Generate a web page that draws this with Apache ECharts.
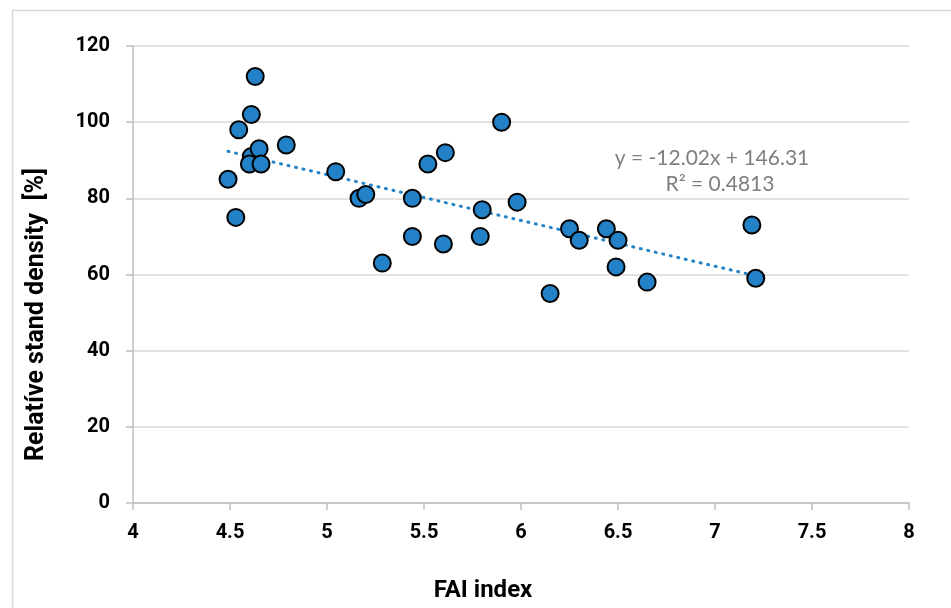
<!DOCTYPE html>
<html>
<head>
<meta charset="utf-8">
<script src="https://cdn.jsdelivr.net/npm/echarts@6/dist/echarts.min.js"></script>
<style>
html,body{margin:0;padding:0;background:#fff;}
#chart{width:951px;height:608px;}
</style>
</head>
<body>
<div id="chart"></div>
<script>
var faiIndex = [4.49,4.53,4.545,4.63,4.61,4.61,4.60,4.65,4.66,4.79,5.045,5.165,5.20,5.285,5.44,5.44,5.52,5.61,5.60,5.90,5.80,5.79,5.98,6.15,6.25,6.30,6.44,6.50,6.49,6.65,7.19,7.21];
var standDensity = [85,75,98,112,102,91,89,93,89,94,87,80,81,63,80,70,89,92,68,100,77,70,79,55,72,69,72,69,62,58,73,59];
var trendSlope = -12.02;
var trendIntercept = 146.31;
var trendLabel = ['y = -12.02x + 146.31', 'R\u00b2 = 0.4813'];
var xTitle = 'FAI index';
var yTitle = 'Relat\u00edve stand density  [%]';

var points = faiIndex.map(function(x, i){ return [x, standDensity[i]]; });
var xMin = Math.min.apply(null, faiIndex), xMax = Math.max.apply(null, faiIndex);
var trend = [[xMin, trendSlope*xMin + trendIntercept], [xMax, trendSlope*xMax + trendIntercept]];

var chart = echarts.init(document.getElementById('chart'), null, {renderer:'canvas'});
var font = 'Roboto, "Liberation Sans", sans-serif';
chart.setOption({
  animation:false,
  backgroundColor:'#fff',
  grid:{left:133, right:42, top:46, bottom:105},
  xAxis:{
    type:'value', min:4, max:8, interval:0.5,
    axisLine:{show:true, onZero:false, lineStyle:{color:'#bfbfbf', width:1.5}},
    axisTick:{show:true, length:7, lineStyle:{color:'#bfbfbf', width:1.5}},
    splitLine:{show:false},
    axisLabel:{color:'#000', fontFamily:font, fontWeight:'bold', fontSize:20, margin:20},
    name:xTitle, nameLocation:'middle', nameGap:76,
    nameTextStyle:{color:'#000', fontFamily:font, fontWeight:'bold', fontSize:24, padding:[0,76,0,0]}
  },
  yAxis:{
    type:'value', min:0, max:120, interval:20,
    axisLine:{show:true, lineStyle:{color:'#bfbfbf', width:1.5}},
    axisTick:{show:true, length:7, lineStyle:{color:'#bfbfbf', width:1.5}},
    splitLine:{show:true, lineStyle:{color:'#d9d9d9', width:1.5}},
    axisLabel:{color:'#000', fontFamily:font, fontWeight:'bold', fontSize:20, margin:23},
    name:yTitle, nameLocation:'middle', nameGap:84, nameRotate:90,
    nameTextStyle:{color:'#000', fontFamily:font, fontWeight:'bold', fontSize:25, padding:[0,80,0,0]}
  },
  series:[
    {
      type:'line', data:trend, showSymbol:false, symbol:'none', silent:true, z:3,
      lineStyle:{color:'#2382c7', width:3, type:[1,6.7], cap:'round'}
    },
    {
      type:'scatter', data:points, symbol:'circle', symbolSize:17, z:4,
      itemStyle:{color:'#2382c7', borderColor:'#000', borderWidth:2, opacity:1}
    }
  ],
  graphic:[
    {type:'rect', left:10, top:8, shape:{width:960, height:620}, silent:true, z:-1,
     style:{fill:null, stroke:'#d9d9d9', lineWidth:1.5}},
    {type:'text', x:712, y:158, z:10,
     style:{text:trendLabel[0], fill:'#7f7f7f', font:'21px Lato, sans-serif', align:'center', verticalAlign:'middle'}},
    {type:'text', x:720, y:184, z:10,
     style:{text:trendLabel[1], fill:'#7f7f7f', font:'21px Lato, sans-serif', align:'center', verticalAlign:'middle'}}
  ]
});
</script>
</body>
</html>
